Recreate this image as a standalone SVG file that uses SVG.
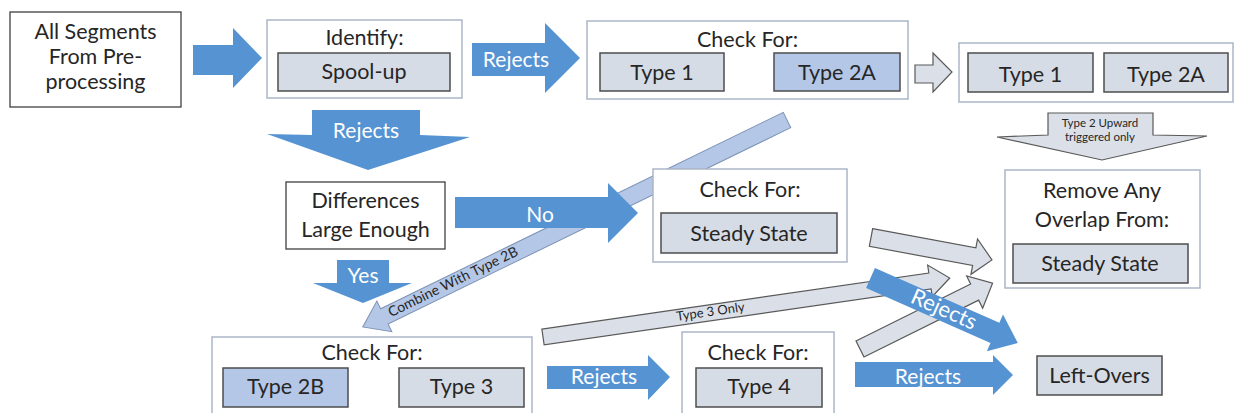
<svg xmlns="http://www.w3.org/2000/svg" width="1235" height="413" viewBox="0 0 1235 413">
<style>
.t{font-family:Lato,"Open Sans","Liberation Sans",sans-serif;font-size:21.5px;fill:#262626;text-anchor:middle}
.w{fill:#ffffff;font-size:21px}
.s{font-size:11.5px}
.outer{fill:#ffffff;stroke:#aab6c6;stroke-width:1.5}
.plain{fill:#ffffff;stroke:#3f3f3f;stroke-width:1.3}
.inner{fill:#d6dce5;stroke:#4d4d4d;stroke-width:1.5}
.innerB{fill:#b4c7e7;stroke:#4d4d4d;stroke-width:1.5}
.blue{fill:#5593d2}
.gray{fill:#dbe0e8;stroke:#595959;stroke-width:1.2}
.comb{fill:#b4c7e7;stroke:#7d93b5;stroke-width:1}
</style>
<rect width="1235" height="413" fill="#ffffff"/>

<g id="connectors-back">
  <g transform="translate(787,120) rotate(154)">
    <polygon class="comb" points="0,-8.5 448,-8.5 448,-17 472,0 448,17 448,8.5 0,8.5"/>
  </g>
  <text class="t" transform="translate(455,286) rotate(-26)" style="font-size:14px">Combine With Type 2B</text>
</g>

<g id="n-all"><rect class="plain" x="10" y="12" width="171" height="95"/>
<text class="t" x="95.5" y="39">All Segments</text><text class="t" x="95.5" y="64">From Pre-</text><text class="t" x="95.5" y="89">processing</text></g>

<g id="n-identify"><rect class="outer" x="267" y="20" width="195" height="78"/>
<text class="t" x="364.5" y="45">Identify:</text>
<rect class="inner" x="278" y="53" width="172" height="38"/><text class="t" x="364" y="79">Spool-up</text></g>

<g id="n-check1"><rect class="outer" x="587" y="21" width="321" height="78"/>
<text class="t" x="747.5" y="47">Check For:</text>
<rect class="inner" x="600" y="53" width="124" height="38"/><text class="t" x="662" y="80">Type 1</text>
<rect class="innerB" x="774" y="53" width="126" height="38"/><text class="t" x="837" y="80">Type 2A</text></g>

<g id="n-result"><rect class="outer" x="959" y="43" width="274" height="59"/>
<rect class="inner" x="968" y="53" width="125" height="39"/><text class="t" x="1030.5" y="82">Type 1</text>
<rect class="inner" x="1104" y="53" width="124" height="39"/><text class="t" x="1166" y="82">Type 2A</text></g>

<g id="n-diff"><rect class="plain" x="286" y="182" width="159" height="67"/>
<text class="t" x="365.5" y="208">Differences</text><text class="t" x="365.5" y="237">Large Enough</text></g>

<g id="connectors">
  <polygon class="blue" points="193,45 233,45 233,28 262,58 233,88 233,75 193,75"/>
  <polygon class="blue" points="472,43 545,43 545,23 580,58 545,93 545,76 472,76"/>
  <text class="t w" x="516" y="67">Rejects</text>
  <polygon class="gray" points="915,65 933,65 933,53 952,72 933,92 933,83 915,83"/>
  <polygon class="gray" points="1048,113 1153,113 1153,135 1207,136 1102,160 997,137 1048,135"/>
  <text class="t s" x="1100" y="127">Type 2 Upward</text>
  <text class="t s" x="1100" y="141">triggered only</text>
  <polygon class="blue" points="312,110 420,110 420,135 470,137 368,170 267,134 312,135"/>
  <text class="t w" x="366" y="138">Rejects</text>
  <polygon class="blue" points="455,197 608,197 608,183 638,213 608,243 608,228 455,228"/>
  <text class="t w" x="540" y="222">No</text>
  <polygon class="blue" points="337,260 389,260 389,283 412,283 363,303 313,283 337,283"/>
  <text class="t w" x="363" y="283">Yes</text>
  <g transform="translate(543,337) rotate(-8.25)">
    <polygon class="gray" points="0,-8 391,-8 391,-16 411,0 391,16 391,8 0,8"/>
  </g>
  <text class="t" transform="translate(711,316) rotate(-8.25)" style="font-size:13px">Type 3 Only</text>
  <g transform="translate(871,237.5) rotate(10.5)">
    <polygon class="gray" points="0,-9 105,-9 105,-18 123,0 105,18 105,9 0,9"/>
  </g>
  <g transform="translate(860,349) rotate(-26.4)">
    <polygon class="gray" points="0,-9 128,-9 128,-18 148,0 128,18 128,9 0,9"/>
  </g>
  <g transform="translate(870.5,278) rotate(23.8)">
    <polygon class="blue" points="0,-11 136,-11 136,-20 161,0 136,20 136,11 0,11"/>
  </g>
  <text class="t w" transform="translate(941,316) rotate(23.8)" style="font-size:22px">Rejects</text>
  <polygon class="blue" points="547,366 648,366 648,355 670,377 648,400 648,389 547,389"/>
  <text class="t w" x="604" y="384">Rejects</text>
  <polygon class="blue" points="855,362 993,362 993,355 1013,375 993,395 993,387 855,387"/>
  <text class="t w" x="928" y="384">Rejects</text>
</g>

<g id="n-steady"><rect class="outer" x="653" y="169" width="194" height="93"/>
<text class="t" x="750" y="197">Check For:</text>
<rect class="inner" x="661" y="213" width="176" height="40"/><text class="t" x="749" y="241">Steady State</text></g>

<g id="n-remove"><rect class="outer" x="1005" y="170" width="195" height="118"/>
<text class="t" x="1102" y="198">Remove Any</text><text class="t" x="1102" y="227">Overlap From:</text>
<rect class="inner" x="1013" y="244" width="175" height="39"/><text class="t" x="1100" y="271">Steady State</text></g>

<g id="n-check3"><rect class="outer" x="212" y="337" width="320" height="80"/>
<text class="t" x="372" y="360">Check For:</text>
<rect class="innerB" x="223" y="368" width="125" height="39"/><text class="t" x="285.5" y="394">Type 2B</text>
<rect class="inner" x="399" y="368" width="125" height="39"/><text class="t" x="461.5" y="394">Type 3</text></g>

<g id="n-check4"><rect class="outer" x="682" y="332" width="152" height="85"/>
<text class="t" x="758" y="360">Check For:</text>
<rect class="inner" x="696" y="368" width="126" height="39"/><text class="t" x="759" y="394">Type 4</text></g>

<g id="n-left"><rect class="inner" x="1037" y="356" width="125" height="39"/><text class="t" x="1099.5" y="383">Left-Overs</text></g>
</svg>
